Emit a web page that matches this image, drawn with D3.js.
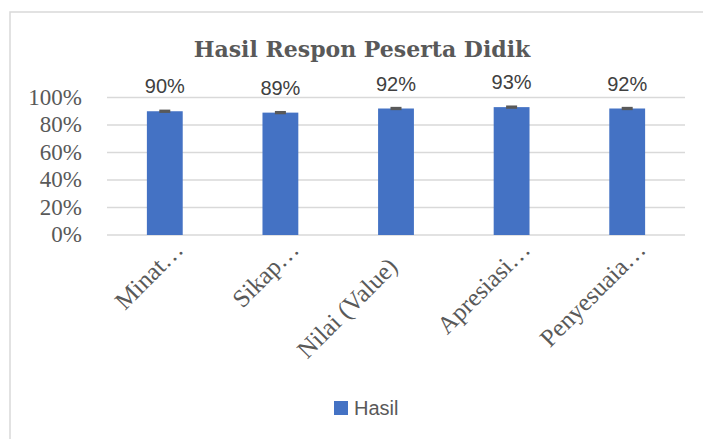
<!DOCTYPE html>
<html><head><meta charset="utf-8">
<script src="https://cdn.jsdelivr.net/npm/d3@7"></script>
<style>body{margin:0;background:#fff}svg{display:block}</style>
</head><body>
<svg id="chart" width="703" height="439"></svg>
<script>
const categories = ["Minat…", "Sikap…", "Nilai (Value)", "Apresiasi…", "Penyesuaia…"];
const values = [0.90, 0.89, 0.92, 0.93, 0.92];
const labels = ["90%", "89%", "92%", "93%", "92%"];
const errors = [0.012, 0.012, 0.012, 0.012, 0.012];
const yTicks = [0, 0.2, 0.4, 0.6, 0.8, 1.0];
const seriesName = "Hasil";
const title = "Hasil Respon Peserta Didik";

const svg = d3.select("#chart");
const W = 703, H = 439;
const plot = {left: 107, right: 685, top: 97.5, bottom: 235};

svg.append("rect").attr("x", 10).attr("y", 12).attr("width", W + 20).attr("height", H + 20)
  .attr("fill", "#fff").attr("stroke", "#d9d9d9").attr("stroke-width", 1.5);

svg.append("text").attr("x", 362).attr("y", 57).attr("text-anchor", "middle")
  .attr("font-family", "DejaVu Serif").attr("font-weight", "bold").attr("font-size", 22)
  .attr("fill", "#595959").text(title);

const x = d3.scaleBand().domain(categories).range([plot.left, plot.right]).padding(0);
const y = d3.scaleLinear().domain([0, 1]).range([plot.bottom, plot.top]);
const barW = x.bandwidth() * 0.31;

// gridlines
svg.append("g").selectAll("line").data(yTicks).join("line")
  .attr("x1", plot.left).attr("x2", plot.right)
  .attr("y1", d => y(d)).attr("y2", d => y(d))
  .attr("stroke", "#d9d9d9").attr("stroke-width", 1.5);

// y axis
const yAxis = d3.axisLeft(y).tickValues(yTicks).tickFormat(d3.format(".0%")).tickSize(0).tickPadding(0);
const gy = svg.append("g").attr("transform", `translate(82,0)`).call(yAxis);
gy.select(".domain").remove();
gy.selectAll("text").attr("font-family", "Liberation Serif").attr("font-size", 23)
  .attr("fill", "#595959").attr("dy", "0.3em");

// bars
svg.append("g").selectAll("rect").data(values).join("rect")
  .attr("x", (d, i) => x(categories[i]) + x.bandwidth() / 2 - barW / 2)
  .attr("width", barW)
  .attr("y", d => y(d)).attr("height", d => y(0) - y(d))
  .attr("fill", "#4472c4");

// error bars
svg.append("g").selectAll("rect").data(values).join("rect")
  .attr("x", (d, i) => x(categories[i]) + x.bandwidth() / 2 - 5.5)
  .attr("width", 11)
  .attr("y", (d, i) => y(d + errors[i]))
  .attr("height", (d, i) => y(d - errors[i]) - y(d + errors[i]))
  .attr("fill", "#595959");

// data labels
svg.append("g").selectAll("text").data(values).join("text")
  .attr("x", (d, i) => x(categories[i]) + x.bandwidth() / 2)
  .attr("y", d => y(d) - 18)
  .attr("text-anchor", "middle")
  .attr("font-family", "Liberation Sans").attr("font-size", 20)
  .attr("fill", "#404040")
  .text((d, i) => labels[i]);

// x axis labels (truncated labels sit further along the diagonal)
const xAxis = d3.axisBottom(x).tickSize(0).tickPadding(0);
const gx = svg.append("g").attr("transform", `translate(0,${plot.bottom})`).call(xAxis);
gx.select(".domain").remove();
gx.selectAll("text")
  .attr("font-family", "Liberation Serif").attr("font-size", 25).attr("fill", "#595959")
  .attr("text-anchor", "end").attr("dy", 0).attr("y", 0)
  .attr("transform", d => d.endsWith("…") ? "translate(20,16) rotate(-45)" : "translate(3,33) rotate(-45)");

// legend
const lg = svg.append("g").attr("transform", "translate(334,401)");
lg.append("rect").attr("width", 14).attr("height", 14).attr("fill", "#4472c4");
lg.append("text").attr("x", 20).attr("y", 14).attr("font-family", "Liberation Sans")
  .attr("font-size", 20).attr("fill", "#595959").text(seriesName);
</script>
</body></html>
